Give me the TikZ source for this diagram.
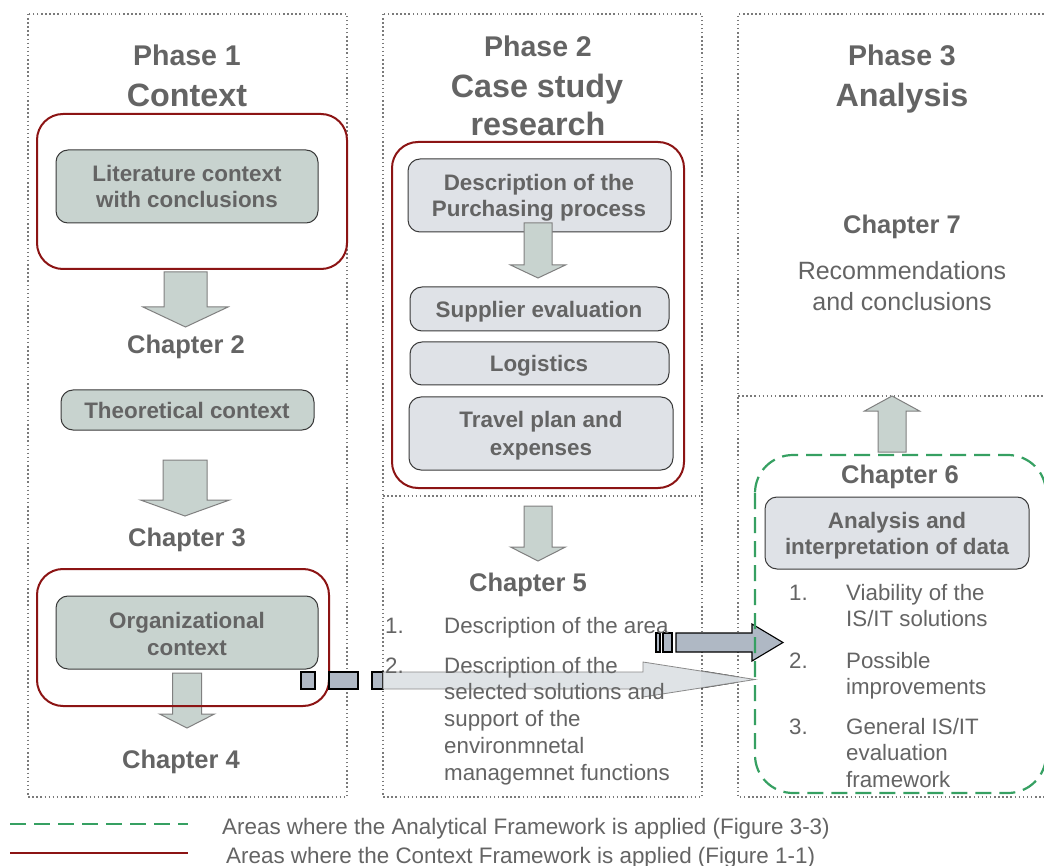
\documentclass[tikz,border=0pt]{standalone}
\usepackage{fontspec}
\setmainfont{Liberation Sans}
\definecolor{tgray}{HTML}{646464}
\definecolor{dotgray}{HTML}{7A7A7A}
\definecolor{ctxred}{HTML}{8C1414}
\definecolor{anagreen}{HTML}{36A062}
\definecolor{boxline}{HTML}{3A3A3A}
\definecolor{greenfill}{HTML}{C8D3CF}
\definecolor{bluefill}{HTML}{DFE2E7}
\definecolor{arrowline}{HTML}{808080}
\definecolor{stripefill}{HTML}{AFB8C4}
\definecolor{lightfill}{HTML}{DCE0E4}
\definecolor{lightline}{HTML}{8A8A8A}
\newcommand{\BlockDown}[6]{%
  \draw[blockarrow] (#1-#5,#2) -- (#1+#5,#2) -- (#1+#5,#3) -- (#1+#6,#3) -- (#1,#4) -- (#1-#6,#3) -- (#1-#5,#3) -- cycle;}
\tikzset{
  colline/.style={draw=dotgray, line width=1.5pt, dash pattern=on 1.5pt off 2.6pt},
  redbox/.style={draw=ctxred, line width=2pt, rounded corners=26pt},
  greenbox/.style={draw=anagreen, line width=2.2pt, dash pattern=on 16pt off 8pt, rounded corners=38pt},
  graybox/.style={draw=boxline, line width=1pt, rounded corners=12pt, fill=greenfill, inner sep=0pt},
  bluebox/.style={graybox, fill=bluefill},
  blockarrow/.style={fill=greenfill, draw=arrowline, line width=1pt},
  stripe/.style={fill=stripefill, draw=black, line width=1.1pt},
  lightarrow/.style={fill=lightfill, fill opacity=0.9, draw=lightline, line width=0.8pt},
  base/.style={text=tgray, anchor=base, inner sep=0pt},
  phase/.style={base, font=\bfseries\fontsize{28.5pt}{30pt}\selectfont},
  heading/.style={base, font=\bfseries\fontsize{32.3pt}{34pt}\selectfont},
  chap/.style={base, font=\bfseries\fontsize{25.5pt}{28pt}\selectfont},
  boxtext/.style={base, font=\bfseries\fontsize{22.4pt}{26pt}\selectfont},
  body/.style={base, font=\fontsize{22.3pt}{26pt}\selectfont},
  item/.style={body, anchor=base west},
  legend/.style={base, anchor=base west, font=\fontsize{22.4pt}{26pt}\selectfont},
}
\begin{document}
\begin{tikzpicture}[x=1pt,y=-1pt]
\useasboundingbox (0,0) rectangle (1044,866);
\fill[white] (0,0) rectangle (1044,866);

% columns
\draw[colline] (28,14) rectangle (347,797);
\draw[colline] (383,14) rectangle (702,797);
\draw[colline] (383,496) -- (702,496);
\draw[colline] (1052,14) -- (738,14) -- (738,797) -- (1052,797);
\draw[colline] (738,396) -- (1052,396);

% gray boxes
\node[graybox, minimum width=262pt, minimum height=73pt] (lit) at (187,186.5) {};
\node[graybox, minimum width=253pt, minimum height=40pt] (theo) at (187.5,410) {};
\node[graybox, minimum width=262pt, minimum height=73pt] (org) at (187,632.5) {};
\node[bluebox, minimum width=263pt, minimum height=73pt] (purch) at (539.5,195.5) {};
\node[bluebox, minimum width=259pt, minimum height=44pt] (supp) at (539.5,309) {};
\node[bluebox, minimum width=259pt, minimum height=43pt] (logi) at (539.5,363.5) {};
\node[bluebox, minimum width=264pt, minimum height=73pt] (travel) at (541,433.5) {};
\node[bluebox, minimum width=264pt, minimum height=72pt] (anal) at (897,533) {};

% block arrows
\BlockDown{185.5}{272}{307}{327}{21.5}{42.5}
\BlockDown{185}{460}{500}{516}{22}{44.5}
\BlockDown{187}{673}{714}{728}{14.5}{27.5}
\BlockDown{538}{223}{265}{278}{14}{27.5}
\BlockDown{538}{506}{547}{561}{14}{27.5}
\BlockDown{892}{452}{411}{396}{14}{27.5}

% red frames
\draw[redbox] (37,114) rectangle (347,269);
\draw[redbox] (392,142) rectangle (684,488);
\draw[redbox] (37,569) rectangle (329,706);

% lower striped arrow
\draw[stripe] (301,672) rectangle (315,689);
\draw[stripe] (329,672) rectangle (358,689);
\draw[stripe] (372,672) rectangle (383,689);
\fill[stripefill] (701,671) -- (738,677) -- (738,682) -- (701,688) -- cycle;
\draw[black, line width=1.1pt] (701,671) -- (738,677) (701,688) -- (738,682);
\draw[lightarrow] (383,672) -- (643,672) -- (643,662) -- (755,679.5) -- (643,697) -- (643,689) -- (383,689) -- cycle;

% upper striped arrow
\draw[stripe] (656,633) rectangle (660,652);
\draw[stripe] (663,633) rectangle (672,652);
\draw[stripe] (676,633) -- (752,633) -- (752,624) -- (783,642.5) -- (752,661) -- (752,652) -- (676,652) -- cycle;

% analytical frame
\draw[greenbox] (755,455) rectangle (1046,793);

% headings
\node[phase] (p1) at (187,66) {Phase 1};
\node[heading] (p1t) at (187,107) {Context};
\node[phase] (p2) at (538,57) {Phase 2};
\node[heading] (p2t) at (537,98) {Case study};
\node[heading] (p2u) at (538,136) {research};
\node[phase] (p3) at (902,66) {Phase 3};
\node[heading] (p3t) at (902,107) {Analysis};

% column 1 texts
\node[boxtext] (t1) at (187,182) {Literature context};
\node[boxtext] (t2) at (187,208) {with conclusions};
\node[chap] (c2) at (186,354) {Chapter 2};
\node[boxtext] (t3) at (187,418) {Theoretical context};
\node[chap] (c3) at (187,546) {Chapter 3};
\node[boxtext] (t4) at (187,628) {Organizational};
\node[boxtext] (t5) at (187,655) {context};
\node[chap] (c4) at (181,768) {Chapter 4};

% column 2 texts
\node[boxtext] (t6) at (539,191) {Description of the};
\node[boxtext] (t7) at (539,217) {Purchasing process};
\node[boxtext] (t8) at (539,318) {Supplier evaluation};
\node[boxtext] (t9) at (539,372) {Logistics};
\node[boxtext] (t10) at (541,428) {Travel plan and};
\node[boxtext] (t11) at (541,455) {expenses};
\node[chap] (c5) at (528,591) {Chapter 5};
\node[item] (n51) at (385,633) {1.};
\node[item] (i51) at (444,633) {Description of the area};
\node[item] (n52) at (385,673) {2.};
\node[item] (i52a) at (444,673) {Description of the};
\node[item] (i52b) at (444,699.75) {selected solutions and};
\node[item] (i52c) at (444,726.5) {support of the};
\node[item] (i52d) at (444,753.25) {environmnetal};
\node[item] (i52e) at (444,780) {managemnet functions};

% column 3 texts
\node[chap] (c7) at (902,234) {Chapter 7};
\node[base, font=\fontsize{25pt}{28pt}\selectfont] (r1) at (902,279.5) {Recommendations};
\node[base, font=\fontsize{25pt}{28pt}\selectfont] (r2) at (902,310.5) {and conclusions};
\node[chap] (c6) at (900,483) {Chapter 6};
\node[boxtext] (t12) at (897,528) {Analysis and};
\node[boxtext] (t13) at (897,554) {interpretation of data};
\node[item] (n61) at (789,600) {1.};
\node[item] (i61a) at (846,600) {Viability of the};
\node[item] (i61b) at (846,626) {IS/IT solutions};
\node[item] (n62) at (789,668) {2.};
\node[item] (i62a) at (846,668) {Possible};
\node[item] (i62b) at (846,694) {improvements};
\node[item] (n63) at (789,734) {3.};
\node[item] (i63a) at (846,734) {General IS/IT};
\node[item] (i63b) at (846,760.5) {evaluation};
\node[item] (i63c) at (846,787) {framework};

% legend
\coordinate (lg1a) at (10,824);
\coordinate (lg1b) at (188,824);
\coordinate (lg2a) at (10,853);
\coordinate (lg2b) at (188,853);
\draw[draw=anagreen, line width=2.2pt, dash pattern=on 16pt off 8pt] (lg1a) -- (lg1b);
\draw[draw=ctxred, line width=2.6pt] (lg2a) -- (lg2b);
\node[legend] (lt1) at (222,834) {Areas where the Analytical Framework is applied (Figure 3-3)};
\node[legend] (lt2) at (226,863) {Areas where the Context Framework is applied (Figure 1-1)};
\end{tikzpicture}
\end{document}
